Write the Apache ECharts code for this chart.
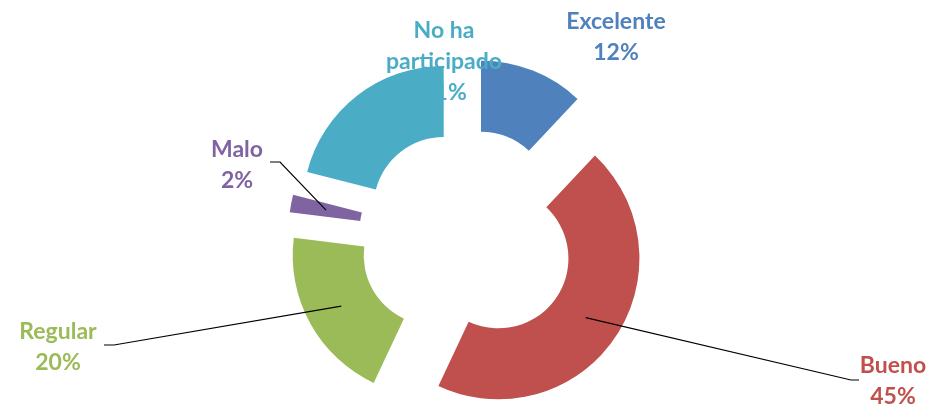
<!DOCTYPE html>
<html><head><meta charset="utf-8">
<script src="https://cdn.jsdelivr.net/npm/echarts@6/dist/echarts.min.js"></script>
<style>html,body{margin:0;padding:0;background:#fff}#c{width:938px;height:406px}</style>
</head><body><div id="c"></div>
<script>
const categories = ['Excelente', 'Bueno', 'Regular', 'Malo', 'No ha participado'];
const labelTexts = ['Excelente', 'Bueno', 'Regular', 'Malo', 'No ha\nparticipado'];
const values = [12, 45, 20, 2, 21];
const colors = ['#4F81BD', '#C0504D', '#9BBB59', '#8064A2', '#4BACC6'];
const showLine = [false, true, true, true, false];
// label anchor positions (centre of text block) and leader elbows
const labelPos = [[616, 37], [893, 381], [58, 347], [237, 165], [444, 62]];
const elbow = [null, [851, 380], [114, 345], [280, 162], null];

const CX = 467, CY = 237, R0 = 70, R1 = 141, OFF = 38;
const total = values.reduce((a, b) => a + b, 0);

function bisector(i) {
  let cum = 0;
  for (let k = 0; k < i; k++) cum += values[k];
  const a = (cum + values[i] / 2) / total * 2 * Math.PI; // clockwise from top
  return [Math.sin(a), -Math.cos(a)];
}
function midPoint(i) {
  const d = bisector(i), rm = (R0 + R1) / 2;
  return [CX + d[0] * (OFF + rm), CY + d[1] * (OFF + rm)];
}

// one pie per slice, each shifted along its bisector (exploded donut)
const series = categories.map((cat, i) => {
  const d = bisector(i);
  return {
    type: 'pie',
    name: cat,
    z: 2,
    center: [CX + d[0] * OFF, CY + d[1] * OFF],
    radius: [R0, R1],
    startAngle: 90,
    clockwise: true,
    emphasis: {disabled: true},
    silent: true,
    label: {show: false},
    labelLine: {show: false},
    data: categories.map((c, k) => ({
      name: c,
      value: values[k],
      itemStyle: {color: k === i ? colors[k] : 'rgba(0,0,0,0)'}
    }))
  };
});

// label + leader-line layer on top
series.push({
  type: 'pie',
  name: 'labels',
  z: 5,
  center: [CX, CY],
  radius: [R0, R1],
  startAngle: 90,
  clockwise: true,
  avoidLabelOverlap: false,
  emphasis: {disabled: true},
  silent: true,
  data: categories.map((c, k) => ({
    name: c,
    value: values[k],
    itemStyle: {color: 'rgba(0,0,0,0)'},
    label: {color: colors[k]},
    labelLine: {show: showLine[k]}
  })),
  label: {
    show: true,
    position: 'outside',
    fontFamily: 'Lato',
    fontWeight: 'bold',
    fontSize: 23,
    lineHeight: 31,
    align: 'center',
    formatter: p => labelTexts[p.dataIndex] + '\n' + p.value + '%'
  },
  labelLine: {lineStyle: {color: '#000', width: 1.2}},
  labelLayout: function (params) {
    const k = params.dataIndex;
    const res = {x: labelPos[k][0], y: labelPos[k][1], align: 'center', verticalAlign: 'middle'};
    if (showLine[k]) {
      res.labelLinePoints = [midPoint(k), elbow[k], [elbow[k][0] + (k === 1 ? 8 : -10), elbow[k][1]]];
    }
    return res;
  }
});

const chart = echarts.init(document.getElementById('c'), null, {renderer: 'canvas'});
chart.setOption({animation: false, series: series});
</script></body></html>
